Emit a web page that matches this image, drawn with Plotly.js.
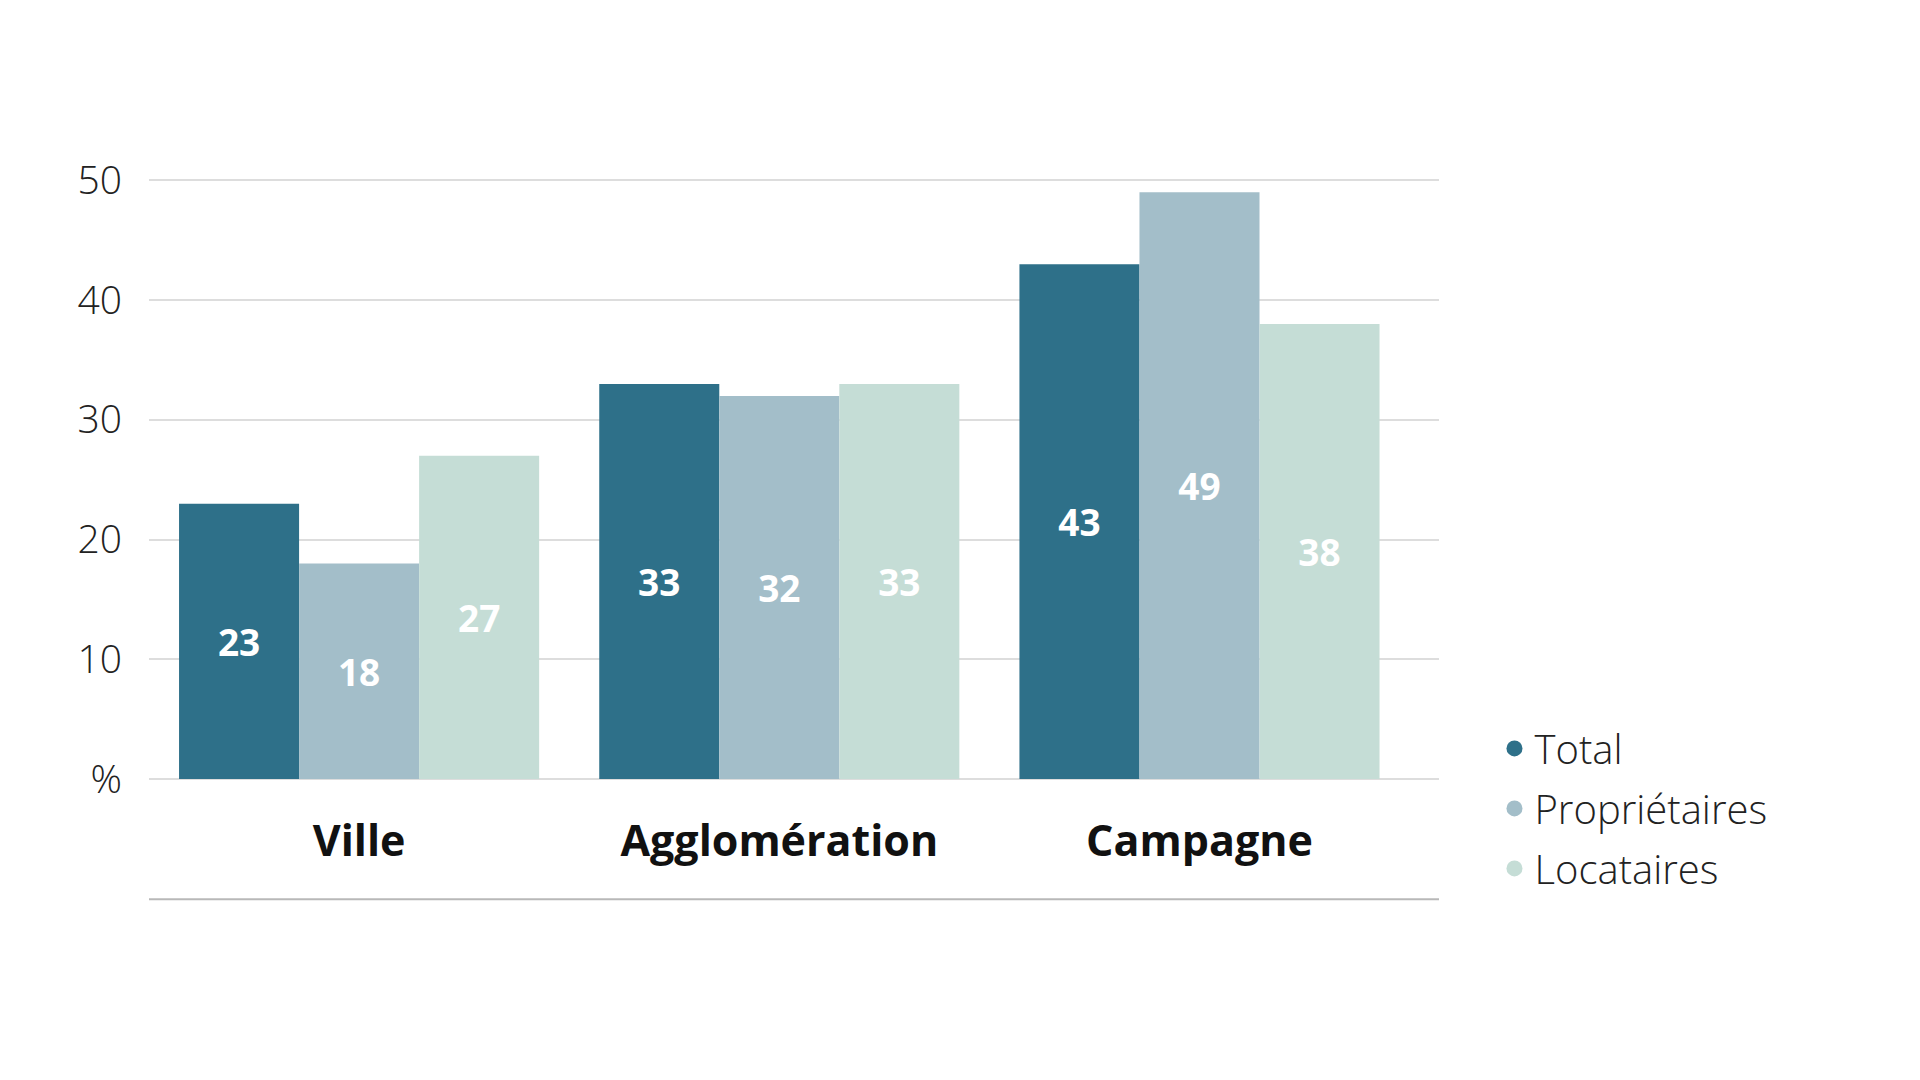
<!DOCTYPE html>
<html>
<head>
<meta charset="utf-8">
<script src="https://cdn.plot.ly/plotly-3.0.1.min.js"></script>
<style>html,body{margin:0;padding:0;background:#fff;}#chart{width:1920px;height:1080px;}</style>
</head>
<body>
<div id="chart"></div>
<script>
const categories = ["Ville", "Agglomération", "Campagne"];
const seriesNames = ["Total", "Propriétaires", "Locataires"];
const totalValues = [23, 33, 43];
const proprietairesValues = [18, 32, 49];
const locatairesValues = [27, 33, 38];
const yTickVals = [0, 10, 20, 30, 40, 50];
const yTickText = ["%", "10", "20", "30", "40", "50"];
const colors = ["#2e7089", "#a3bec9", "#c5ddd6"];

const FONT = "Open Sans, Noto Sans, sans-serif";
const allValues = [totalValues, proprietairesValues, locatairesValues];

const traces = [];
allValues.forEach((vals, i) => {
  traces.push({
    type: "bar",
    name: seriesNames[i],
    x: categories,
    y: vals,
    text: vals.map(String),
    textposition: "inside",
    insidetextanchor: "middle",
    textangle: 0,
    constraintext: "none",
    textfont: {family: FONT, size: 37, color: "#ffffff", weight: 700},
    marker: {color: colors[i], line: {width: 0}},
    showlegend: false,
    hoverinfo: "skip"
  });
});
seriesNames.forEach((n, i) => {
  traces.push({
    type: "scatter",
    mode: "markers",
    name: n,
    legendgroup: "g" + i,
    x: [categories[0]],
    y: [null],
    marker: {color: colors[i], size: 22, symbol: "circle"},
    showlegend: true,
    hoverinfo: "skip"
  });
});

const layout = {
  width: 1920,
  height: 1080,
  paper_bgcolor: "#ffffff",
  plot_bgcolor: "#ffffff",
  margin: {l: 149, r: 481, t: 178, b: 301},
  barmode: "group",
  bargap: 0.143,
  bargroupgap: 0,
  font: {family: FONT, color: "#1a1a1a"},
  xaxis: {
    type: "category",
    range: [-0.5, 2.57],
    showgrid: false,
    zeroline: false,
    showline: false,
    ticks: "",
    ticklabelstandoff: 33,
    tickfont: {family: FONT, size: 43, color: "#111111", weight: 700},
    fixedrange: true
  },
  yaxis: {
    range: [0, 50.2],
    tickvals: yTickVals,
    ticktext: yTickText,
    showgrid: true,
    gridcolor: "#dddddd",
    gridwidth: 2,
    zeroline: true,
    zerolinecolor: "#dddddd",
    zerolinewidth: 2,
    showline: false,
    ticks: "",
    ticklabelstandoff: 26,
    tickfont: {family: FONT, size: 39, color: "#222222", weight: 300},
    fixedrange: true
  },
  legend: {
    x: 1.043,
    xanchor: "left",
    y: 0.105,
    yanchor: "top",
    font: {family: FONT, size: 40, color: "#222222", weight: 300},
    itemwidth: 30,
    bgcolor: "rgba(0,0,0,0)",
    tracegroupgap: 5
  },
  shapes: [{
    type: "line",
    xref: "paper",
    yref: "paper",
    x0: 0, x1: 1,
    y0: -0.2, y1: -0.2,
    line: {color: "#b8b8b8", width: 2}
  }]
};

Plotly.newPlot("chart", traces, layout, {displayModeBar: false, staticPlot: true});
</script>
</body>
</html>
